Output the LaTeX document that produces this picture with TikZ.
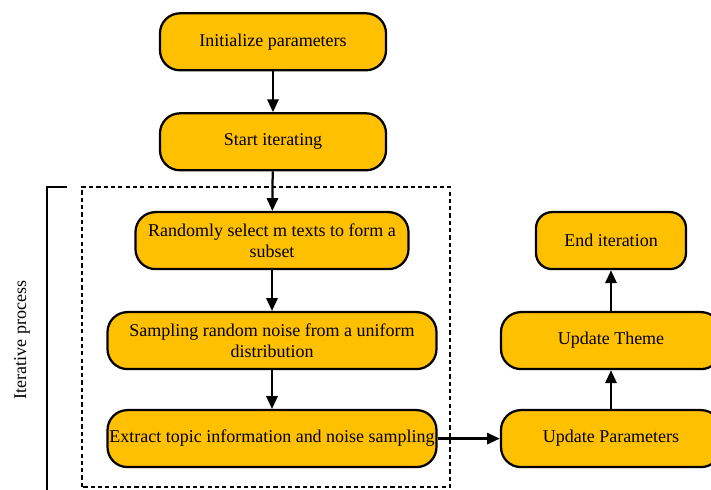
\documentclass[tikz,border=0pt]{standalone}
\usepackage{fontspec}
\setmainfont{Liberation Serif}
\usepackage{xcolor}
\usetikzlibrary{arrows.meta}
\definecolor{Amber}{HTML}{FFC000}

\begin{document}
\begin{tikzpicture}[
  stage/.style={draw=black,line width=1.6pt,fill=Amber,rounded corners=0.5cm,
    minimum height=1.425cm,inner xsep=1pt,align=center,
    font=\fontsize{12.8pt}{15pt}\selectfont},
  flow/.style={-{Triangle[length=3.2mm,width=2.8mm]},line width=1.6pt,black},
  frame/.style={line width=1.4pt,dash pattern=on 3pt off 2.2pt}
]
\useasboundingbox (0,0) rectangle (17.775,12.225);

% Set-up steps.
\node[stage,minimum width=5.65cm] (init) at (6.825,11.18) {Initialize parameters};
\node[stage,minimum width=5.65cm] (start) at (6.825,8.68) {Start iterating};

% Iterative loop.
\draw[frame] (2.05,0.05) rectangle (11.25,7.55);
\draw[line width=1.6pt] (1.675,7.55)--(1.175,7.55)--(1.175,-0.2);
\node[rotate=90,font=\fontsize{12.8pt}{15pt}\selectfont] (loop) at (0.55,3.725) {Iterative process};
\node[stage,minimum width=6.825cm] (subset) at (6.8,6.21)
  {Randomly select m texts to form a\\subset};
\node[stage,minimum width=8.225cm] (noise) at (6.8,3.71)
  {Sampling random noise from a uniform\\distribution};
\node[stage,minimum width=8.225cm] (extract) at (6.8,1.26)
  {Extract topic information and noise sampling};

% Updates.
\node[stage,minimum width=5.5cm] (param) at (15.275,1.26) {Update Parameters};
\node[stage,minimum width=5.5cm] (theme) at (15.275,3.71) {Update Theme};
\node[stage,minimum width=3.75cm,rounded corners=0.4cm] (end) at (15.275,6.21) {End iteration};

\draw[flow] (init)--(start);
\draw[flow] (start)--(subset);
\draw[flow] (subset)--(noise);
\draw[flow] (noise)--(extract);
\draw[flow] (extract)--(param);
\draw[flow] (param)--(theme);
\draw[flow] (theme)--(end);
\end{tikzpicture}
\end{document}
